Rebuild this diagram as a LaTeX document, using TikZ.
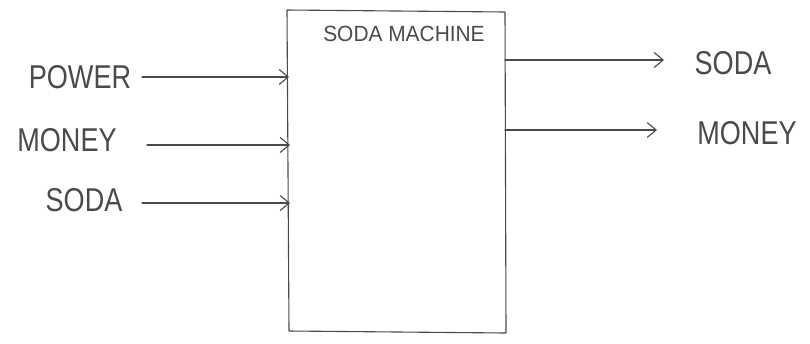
\documentclass[tikz,border=0pt]{standalone}
\usepackage{fontspec}
\setmainfont{Liberation Sans}
\usetikzlibrary{arrows.meta}
\definecolor{pencil}{HTML}{4A4A4A}
\tikzset{
  pen/.style={draw=pencil, line width=1.1pt, line join=round, line cap=round},
  flow/.style={pen, -{Straight Barb[length=9pt, width=15pt, line width=1.1pt]}},
  lbl/.style={text=pencil, inner sep=0pt, xscale=0.82, font=\fontsize{33}{33}\selectfont},
  ttl/.style={text=pencil, inner sep=0pt, xscale=0.95, font=\fontsize{22}{22}\selectfont},
}
\begin{document}
\begin{tikzpicture}[x=1pt, y=-1pt]
  \useasboundingbox (0,0) rectangle (810,343);
  % machine body
  \draw[pen] (287,10) -- (505,12) -- (506,333) -- (289,331) -- cycle;
  \node[ttl] (title) at (404,34) {SODA MACHINE};
  % ports on the machine
  \coordinate (inP) at (289,77);
  \coordinate (inM) at (290,145);
  \coordinate (inS) at (290,203);
  \coordinate (outS) at (505,60);
  \coordinate (outM) at (505,130);
  % inputs
  \node[lbl] (power) at (80,77) {POWER};
  \node[lbl] (money) at (67,140) {MONEY};
  \node[lbl] (soda) at (84,200) {SODA};
  \draw[flow] (142,77) -- (inP);
  \draw[flow] (147,145) -- (inM);
  \draw[flow] (142,203) -- (inS);
  % outputs
  \node[lbl] (sodaout) at (733,63) {SODA};
  \node[lbl] (moneyout) at (747,133) {MONEY};
  \coordinate (eS) at (664,60);
  \coordinate (eM) at (657,130);
  \draw[flow] (outS) -- (eS);
  \draw[flow] (outM) -- (eM);
\end{tikzpicture}
\end{document}
